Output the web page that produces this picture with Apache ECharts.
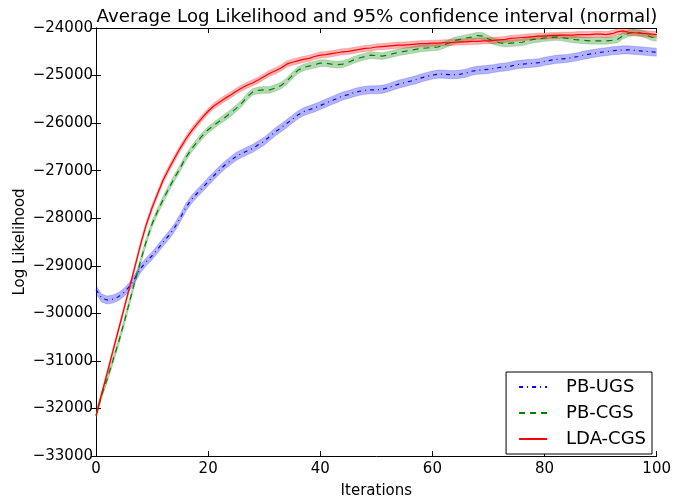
<!DOCTYPE html>
<html>
<head>
<meta charset="utf-8">
<script src="https://cdn.jsdelivr.net/npm/echarts@6/dist/echarts.min.js"></script>
<style>html,body{margin:0;padding:0;background:#fff}#c{width:674px;height:504px}</style>
</head>
<body>
<div id="c"></div>
<script>
const iterations = Array.from({length: 101}, (_, i) => i);
const seriesNames = ['PB-UGS', 'PB-CGS', 'LDA-CGS'];
const yTicks = [-33000, -32000, -31000, -30000, -29000, -28000, -27000, -26000, -25000, -24000];
const xTicks = [0, 20, 40, 60, 80, 100];

const pbUGS = [
 -29500,-29680,-29720,-29700,-29650,-29560,-29430,-29250,-29050,-28910,
 -28790,-28650,-28500,-28360,-28200,-28000,-27780,-27610,-27480,-27360,
 -27230,-27110,-26990,-26880,-26790,-26700,-26640,-26580,-26530,-26450,
 -26380,-26280,-26180,-26100,-26010,-25920,-25830,-25760,-25720,-25680,
 -25630,-25580,-25530,-25480,-25430,-25400,-25360,-25330,-25310,-25300,
 -25300,-25290,-25260,-25220,-25180,-25150,-25120,-25090,-25050,-25020,
 -24990,-24970,-24970,-24980,-24980,-24970,-24950,-24910,-24890,-24880,
 -24870,-24850,-24830,-24820,-24800,-24770,-24760,-24750,-24740,-24730,
 -24700,-24680,-24660,-24650,-24640,-24620,-24600,-24570,-24550,-24530,
 -24510,-24500,-24480,-24470,-24460,-24460,-24470,-24480,-24490,-24500,
 -24510];
const pbCGS = [
 -32150,-31720,-31380,-31000,-30620,-30200,-29750,-29300,-28880,-28470,
 -28120,-27850,-27600,-27370,-27150,-26950,-26730,-26550,-26400,-26260,
 -26140,-26050,-25960,-25880,-25790,-25690,-25580,-25440,-25340,-25310,
 -25300,-25300,-25260,-25210,-25120,-25000,-24890,-24830,-24800,-24770,
 -24740,-24740,-24760,-24770,-24760,-24720,-24670,-24630,-24600,-24570,
 -24580,-24590,-24570,-24540,-24510,-24490,-24470,-24450,-24430,-24420,
 -24410,-24400,-24360,-24310,-24260,-24240,-24210,-24190,-24160,-24170,
 -24230,-24280,-24310,-24330,-24320,-24310,-24300,-24270,-24240,-24230,
 -24210,-24200,-24190,-24200,-24220,-24240,-24250,-24260,-24270,-24270,
 -24270,-24270,-24260,-24240,-24160,-24110,-24090,-24100,-24140,-24190,
 -24210];
const ldaCGS = [
 -32150,-31700,-31250,-30800,-30350,-29900,-29450,-28990,-28530,-28120,
 -27780,-27480,-27190,-26960,-26740,-26530,-26340,-26170,-26020,-25880,
 -25750,-25640,-25560,-25480,-25410,-25330,-25260,-25200,-25150,-25090,
 -25020,-24950,-24900,-24840,-24760,-24720,-24690,-24660,-24640,-24600,
 -24570,-24560,-24540,-24520,-24500,-24490,-24470,-24450,-24430,-24420,
 -24400,-24390,-24380,-24370,-24360,-24360,-24350,-24340,-24330,-24330,
 -24320,-24320,-24310,-24310,-24300,-24290,-24290,-24280,-24280,-24270,
 -24270,-24260,-24250,-24240,-24220,-24210,-24200,-24190,-24180,-24170,
 -24170,-24160,-24160,-24150,-24150,-24150,-24140,-24140,-24140,-24130,
 -24130,-24140,-24120,-24080,-24060,-24090,-24100,-24110,-24120,-24130,
 -24140];
const ciHalf = [85, 70, 65];

const colors = ['#0000ff', '#008000', '#ff0000'];
const dashes = [[4, 4, 1, 4], [6, 5], 'solid'];
const means = [pbUGS, pbCGS, ldaCGS];
const FONT = 'DejaVu Sans';
const fmt = v => (v < 0 ? '\u2212' : '') + Math.abs(v);

const series = [];
means.forEach((arr, k) => {
  const rows = iterations.map(i => [i, arr[i] - ciHalf[k], arr[i] + ciHalf[k]]);
  series.push({
    name: seriesNames[k] + ' CI', type: 'custom', data: rows, silent: true, z: 1,
    clip: true,
    encode: {x: 0, y: [1, 2]},
    renderItem: (params, api) => {
      if (params.dataIndexInside !== 0) return null;
      const upper = rows.map(r => api.coord([r[0], r[2]]));
      const lower = rows.map(r => api.coord([r[0], r[1]])).reverse();
      const cs = params.coordSys;
      return {
        type: 'polygon',
        shape: {points: upper.concat(lower)},
        style: {fill: colors[k], opacity: 0.3, stroke: colors[k], lineWidth: 0.6},
        clipPath: {type: 'rect', shape: {x: cs.x, y: cs.y, width: cs.width, height: cs.height}}
      };
    }
  });
});
means.forEach((arr, k) => {
  series.push({
    name: seriesNames[k], type: 'line', data: iterations.map(i => [i, arr[i]]),
    symbol: 'none', z: 3,
    lineStyle: {color: colors[k], width: 1.2, type: dashes[k]},
    itemStyle: {color: colors[k]}
  });
});

const axisLine = {show: true, lineStyle: {color: '#000', width: 1}};
const tick = {show: true, inside: true, length: 5, lineStyle: {color: '#000'}};

const chart = echarts.init(document.getElementById('c'), null, {renderer: 'canvas'});
chart.setOption({
  animation: false,
  backgroundColor: '#fff',
  textStyle: {fontFamily: FONT},
  title: {
    text: 'Average Log Likelihood and 95% confidence interval (normal)',
    left: 372, top: 3, textAlign: 'center',
    textStyle: {fontFamily: FONT, fontSize: 18.2, fontWeight: 'normal', color: '#000'}
  },
  grid: {left: 96, right: 16, top: 28, bottom: 41, containLabel: false},
  xAxis: [{
    type: 'value', min: xTicks[0], max: xTicks[xTicks.length - 1], interval: 20,
    name: 'Iterations', nameLocation: 'middle', nameGap: 28, nameMoveOverlap: false,
    nameTextStyle: {fontFamily: FONT, fontSize: 15, color: '#000'},
    axisLine, axisTick: tick, splitLine: {show: false},
    axisLabel: {fontFamily: FONT, fontSize: 15, color: '#000', margin: 6}
  }, {
    type: 'value', position: 'top', min: 0, max: 100, interval: 20,
    axisLine, axisTick: tick, axisLabel: {show: false}, splitLine: {show: false}
  }],
  yAxis: [{
    type: 'value', min: yTicks[0], max: yTicks[yTicks.length - 1], interval: 1000,
    name: 'Log Likelihood', nameLocation: 'middle', nameGap: 68, nameRotate: 90,
    nameMoveOverlap: false,
    nameTextStyle: {fontFamily: FONT, fontSize: 15, color: '#000'},
    axisLine, axisTick: tick, splitLine: {show: false},
    axisLabel: {fontFamily: FONT, fontSize: 15, color: '#000', margin: 3, formatter: fmt}
  }, {
    type: 'value', position: 'right', min: -33000, max: -24000, interval: 1000,
    axisLine, axisTick: tick, axisLabel: {show: false}, splitLine: {show: false}
  }],
  legend: {
    data: seriesNames, orient: 'vertical', right: 22, bottom: 50,
    itemWidth: 28, itemHeight: 14, itemGap: 8,
    itemStyle: {opacity: 0},
    backgroundColor: '#fff', borderColor: '#000', borderWidth: 1, borderRadius: 0,
    padding: [6, 6, 6, 12],
    textStyle: {fontFamily: FONT, fontSize: 18, color: '#000', padding: [0, 0, 0, 14]}
  },
  series
});
</script>
</body>
</html>
